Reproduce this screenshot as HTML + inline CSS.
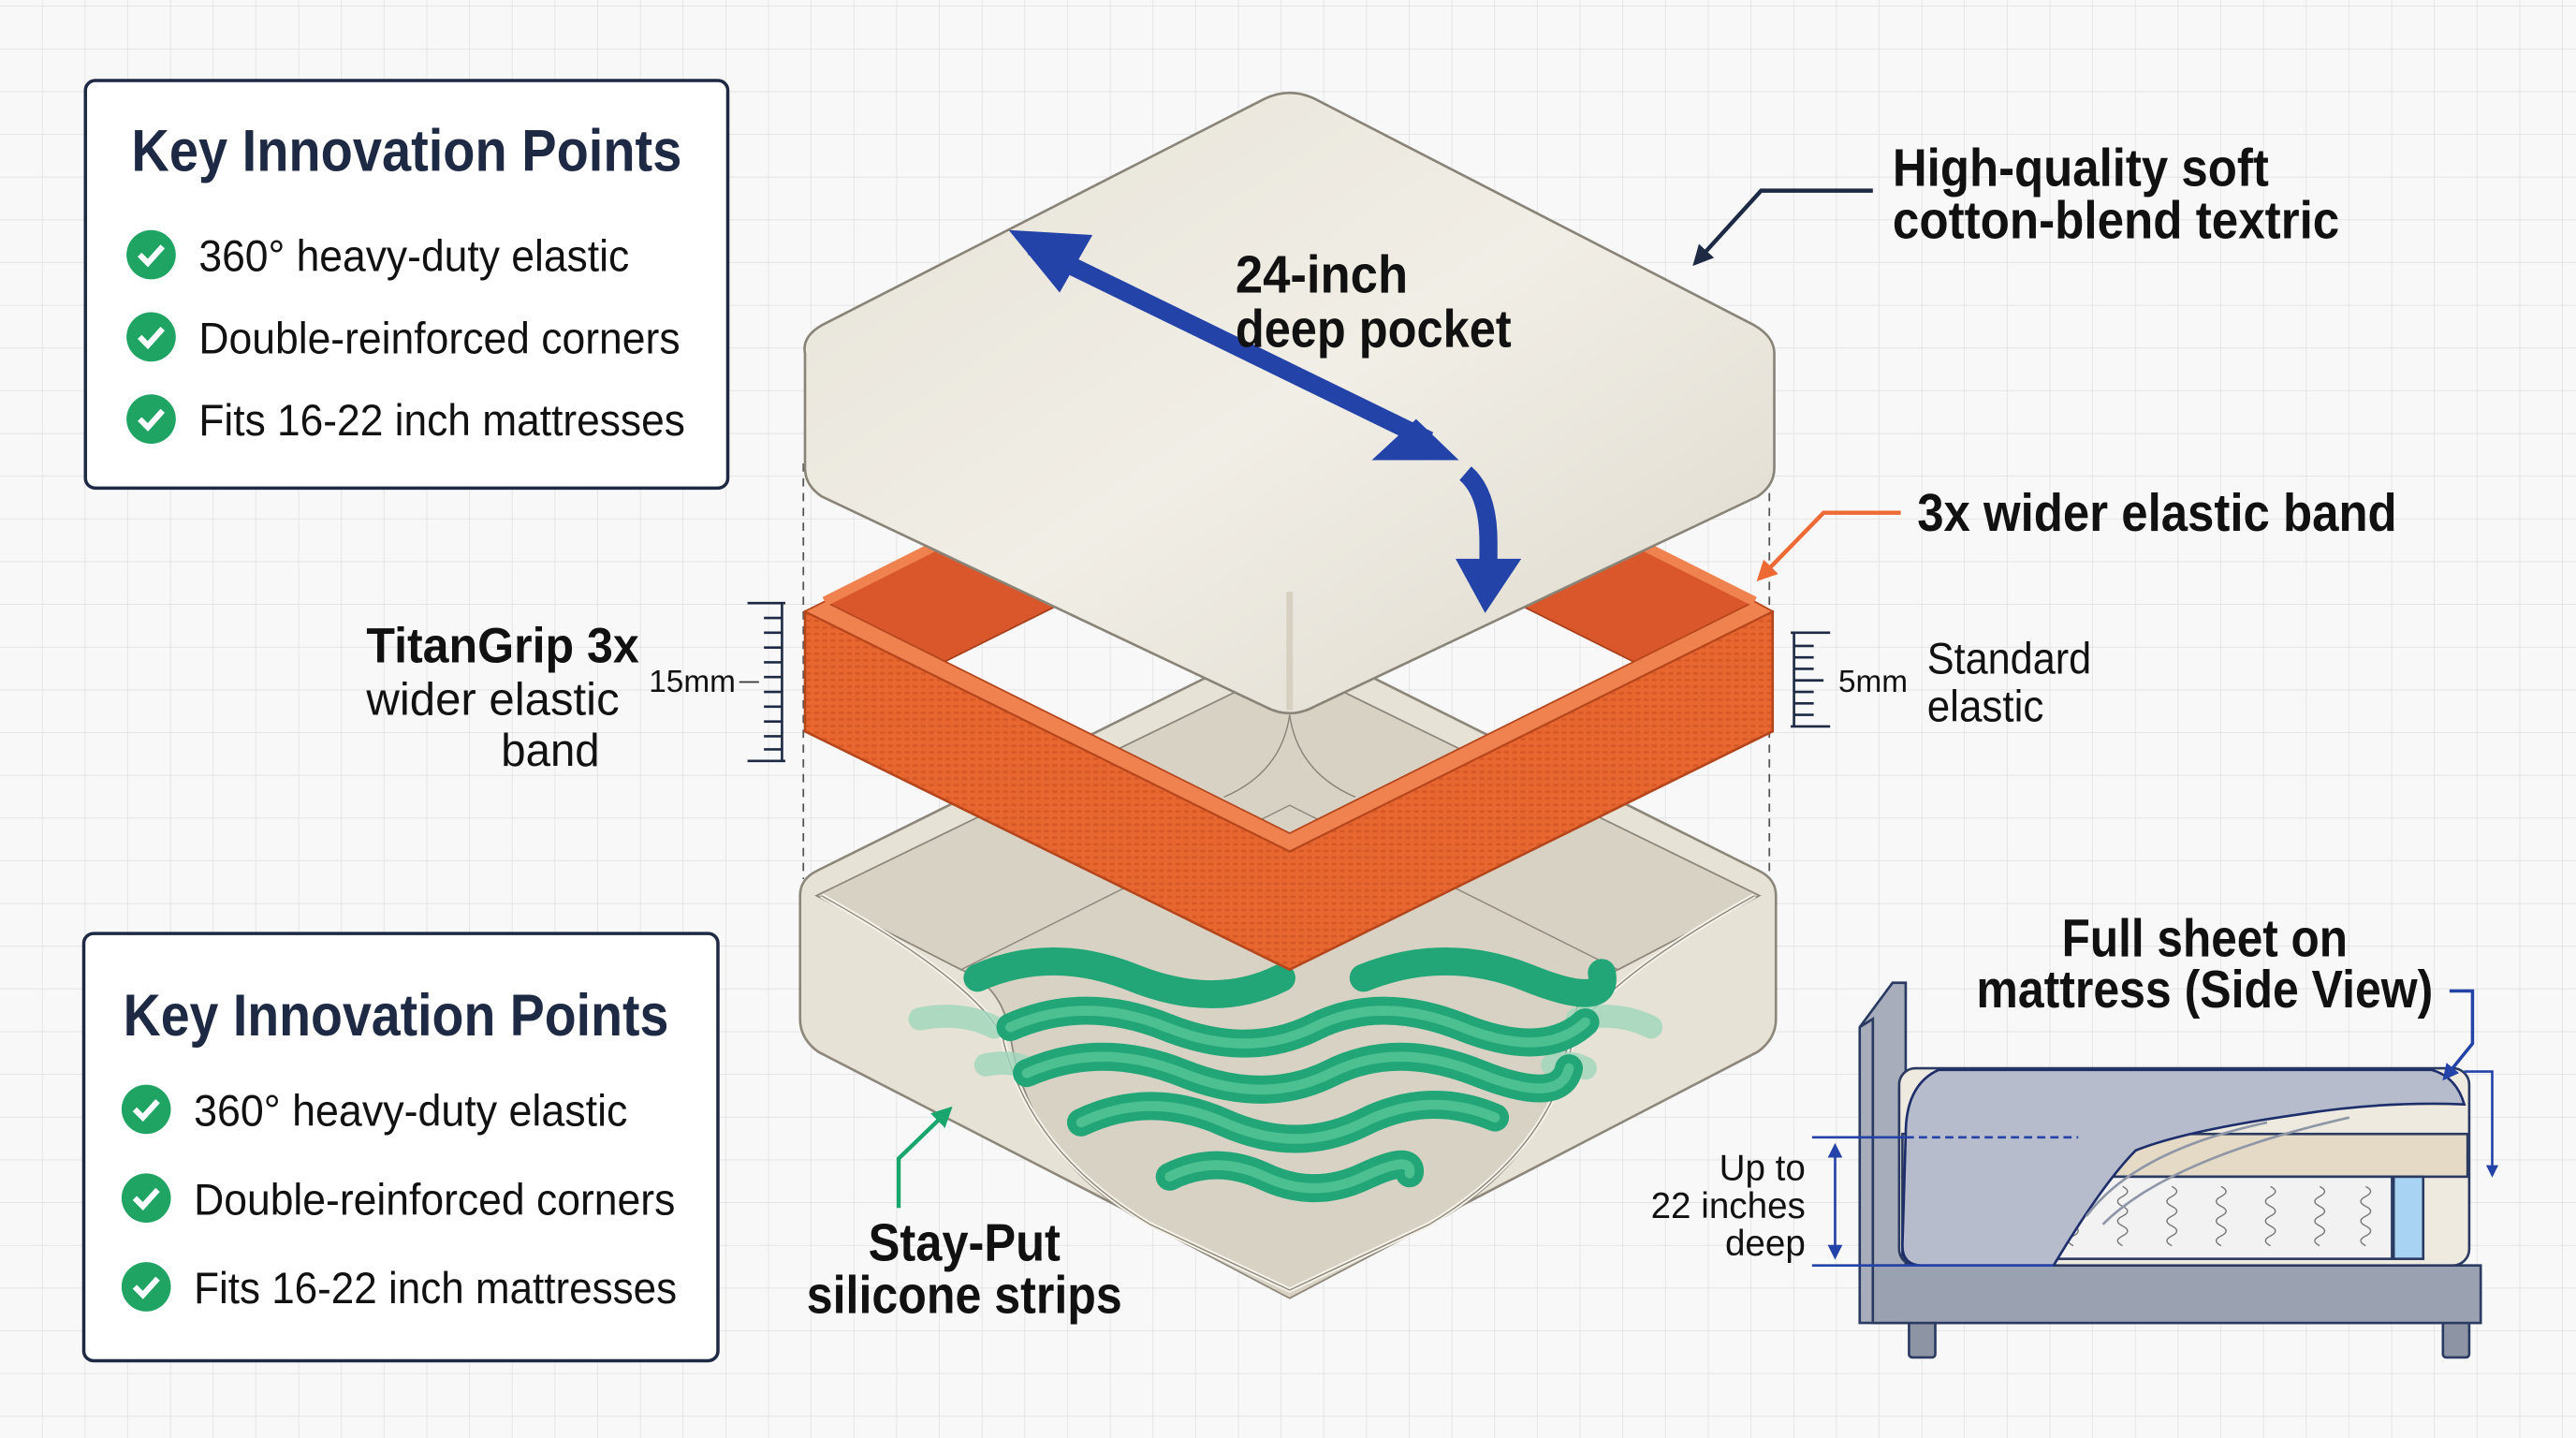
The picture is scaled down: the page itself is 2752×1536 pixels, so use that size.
<!DOCTYPE html>
<html><head><meta charset="utf-8"><style>
html,body{margin:0;padding:0;background:#f7f7f7;}
svg{display:block}
text{font-family:"Liberation Sans Narrow","Liberation Sans",sans-serif;}
</style></head><body>
<svg width="2752" height="1536" viewBox="0 0 1568 875" preserveAspectRatio="none" xmlns="http://www.w3.org/2000/svg">
<defs>
<pattern id="g" width="26" height="26" patternUnits="userSpaceOnUse" x="0" y="4">
<rect width="26" height="26" fill="#f8f8f8"/>
<path d="M26 0V26M0 26H26" stroke="#dedede" stroke-width="0.8" fill="none"/>
</pattern>
<pattern id="knit" width="5" height="4" patternUnits="userSpaceOnUse">
<rect width="5" height="4" fill="#e8662f"/><rect x="0.5" y="1" width="3" height="1.5" fill="#c94e1f" opacity="0.6"/>
</pattern>
<linearGradient id="pt" x1="0" y1="0" x2="1" y2="1"><stop offset="0" stop-color="#e6e2d7"/><stop offset="0.5" stop-color="#f1eee6"/><stop offset="1" stop-color="#ddd8cc"/></linearGradient>
<marker id="an" viewBox="0 0 10 10" refX="8" refY="5" markerWidth="5" markerHeight="5" orient="auto"><path d="M0 0L10 5L0 10Z" fill="#1e2a44"/></marker>
<marker id="ao" viewBox="0 0 10 10" refX="8" refY="5" markerWidth="5" markerHeight="5" orient="auto"><path d="M0 0L10 5L0 10Z" fill="#ee6a34"/></marker>
<marker id="ag" viewBox="0 0 10 10" refX="8" refY="5" markerWidth="5" markerHeight="5" orient="auto"><path d="M0 0L10 5L0 10Z" fill="#18a56e"/></marker>
<marker id="ab" viewBox="0 0 10 10" refX="8" refY="5" markerWidth="5" markerHeight="5" orient="auto"><path d="M0 0L10 5L0 10Z" fill="#2443a8"/></marker>
<marker id="abs" viewBox="0 0 10 10" refX="5" refY="5" markerWidth="6" markerHeight="6" orient="auto-start-reverse"><path d="M0 0L10 5L0 10Z" fill="#2443a8"/></marker>
</defs>
<rect width="1568" height="875" fill="url(#g)"/>

<g stroke="#555" stroke-width="1" stroke-dasharray="5 4">
<line x1="489" y1="282" x2="489" y2="535"/><line x1="1077" y1="282" x2="1077" y2="535"/>
<line x1="785" y1="430" x2="785" y2="785"/>
</g>

<path d="M487 545 Q487 535 497 530 L775 392 Q785 388 795 392 L1071 530 Q1081 535 1081 545 L1081 620 Q1081 632 1070 640 L800 780 Q785 788 770 780 L498 640 Q487 632 487 620 Z" fill="#e7e2d6" stroke="#8d877b" stroke-width="1.5"/>
<path d="M497 545 L785 405 L1071 545 L985 590 Q960 600 955 630 Q945 700 880 740 L785 790 L690 740 Q625 700 615 630 Q610 600 585 590 Z" fill="#d8d2c4" stroke="#8d877b" stroke-width="1"/>
<path d="M585 590 L785 490 L985 590" fill="none" stroke="#8d877b" stroke-width="0.8"/>
<path d="M500 545 Q590 595 610 630 Q625 700 700 745 L785 785 L870 745 Q945 700 958 630 Q978 595 1068 545" fill="none" stroke="#f5f2ea" stroke-width="3"/>
<path d="M500 545 Q590 595 610 630 Q625 700 700 745 L785 785 L870 745 Q945 700 958 630 Q978 595 1068 545" fill="none" stroke="#8d877b" stroke-width="0.8"/>

<g fill="none" stroke-linecap="round">
<g stroke="#9fd8bd" stroke-width="14" opacity="0.8">
<path d="M560 620 Q585 615 605 625"/><path d="M600 648 Q615 645 625 650"/>
<path d="M960 620 Q985 615 1005 625"/><path d="M945 648 Q955 645 965 650"/>
</g>
<g stroke="#23a677" stroke-width="17">
<path d="M595 595 Q640 575 690 595 T780 595"/><path d="M830 595 Q880 575 930 595 T975 592"/>
<path d="M615 625 Q660 605 710 625 T800 625 T890 625 T965 622"/>
<path d="M625 653 Q670 633 720 653 T810 653 T900 653 T955 650"/>
<path d="M658 683 Q700 663 745 683 T830 683 T910 680"/>
<path d="M712 716 Q740 702 770 716 T830 716 T858 714"/>
</g>
<g stroke="#5fcb9e" stroke-width="6" opacity="0.7">
<path d="M615 625 Q660 605 710 625 T800 625 T890 625 T965 622"/>
<path d="M625 653 Q670 633 720 653 T810 653 T900 653 T955 650"/>
<path d="M658 683 Q700 663 745 683 T830 683 T910 680"/>
<path d="M712 716 Q740 702 770 716 T830 716 T858 714"/>
</g>
</g>

<path d="M490 372 L785 225 L1079 372 L1079 445 L785 298 L490 445 Z" fill="#d9572a" stroke="#a8401a" stroke-width="1"/>
<path d="M490 372 L490 445 L785 590 L1079 445 L1079 372 L785 518 Z" fill="url(#knit)" stroke="#b5461c" stroke-width="1.5" stroke-linejoin="round"/>
<path d="M490 372 L785 518 L1079 372 L1068 366 L785 507 L502 366 Z" fill="#f08250" stroke="#b5461c" stroke-width="1"/>
<path d="M502 366 L785 224 L1068 366" fill="none" stroke="#f08250" stroke-width="6"/>

<path d="M490 215 Q488 205 500 198 L770 60 Q785 53 800 60 L1068 198 Q1080 205 1080 215 L1080 285 Q1080 295 1070 302 L800 430 Q785 438 770 430 L500 302 Q490 295 490 285 Z" fill="url(#pt)" stroke="#8a8478" stroke-width="1.5"/>
<path d="M785 360 L785 432" stroke="#d6d0c3" stroke-width="4"/>
<path d="M785 435 Q780 470 745 485 M785 435 Q790 470 825 485" fill="none" stroke="#8a8478" stroke-width="0.8"/>

<path d="M628 150 L870 268" stroke="#2443a8" stroke-width="11"/>
<path d="M614 140 L665 143 L645 178 Z" fill="#2443a8"/>
<path d="M888 280 L835 280 L862 255 Z" fill="#2443a8"/>
<path d="M892 288 Q906 300 906 330 L906 345" fill="none" stroke="#2443a8" stroke-width="11"/>
<path d="M886 340 L926 340 L904 373 Z" fill="#2443a8"/>
<text x="752" y="178" font-size="32" font-weight="bold" fill="#111" textLength="105" lengthAdjust="spacingAndGlyphs">24-inch</text>
<text x="752" y="211" font-size="32" font-weight="bold" fill="#111" textLength="168" lengthAdjust="spacingAndGlyphs">deep pocket</text>

<polyline points="1140,116 1072,116 1032,160" fill="none" stroke="#1e2a44" stroke-width="2.5" marker-end="url(#an)"/>
<text x="1152" y="113" font-size="32" font-weight="bold" fill="#111" textLength="229" lengthAdjust="spacingAndGlyphs">High-quality soft</text>
<text x="1152" y="145" font-size="32" font-weight="bold" fill="#111" textLength="272" lengthAdjust="spacingAndGlyphs">cotton-blend textric</text>

<polyline points="1157,312 1110,312 1071,352" fill="none" stroke="#ee6a34" stroke-width="2.5" marker-end="url(#ao)"/>
<text x="1167" y="323" font-size="32" font-weight="bold" fill="#111" textLength="292" lengthAdjust="spacingAndGlyphs">3x wider elastic band</text>

<text x="389" y="403" font-size="30" font-weight="bold" fill="#111" text-anchor="end" textLength="166" lengthAdjust="spacingAndGlyphs">TitanGrip 3x</text>
<text x="377" y="435" font-size="28" fill="#111" text-anchor="end" textLength="154" lengthAdjust="spacingAndGlyphs">wider elastic</text>
<text x="365" y="466" font-size="28" fill="#111" text-anchor="end" textLength="60" lengthAdjust="spacingAndGlyphs">band</text>
<g stroke="#1e2a44" stroke-width="1.5">
<line x1="476" y1="367" x2="476" y2="463"/><line x1="455" y1="367" x2="478" y2="367"/><line x1="455" y1="463" x2="478" y2="463"/>
<path d="M465 376H476M465 385H476M465 394H476M465 403H476M465 412H476M465 421H476M465 430H476M465 439H476M465 448H476M465 456H476"/>
</g>
<text x="395" y="421" font-size="19" fill="#111">15mm</text>
<line x1="450" y1="415" x2="462" y2="415" stroke="#333"/>
<g stroke="#1e2a44" stroke-width="1.5">
<line x1="1092" y1="385" x2="1092" y2="442"/><line x1="1090" y1="385" x2="1114" y2="385"/><line x1="1090" y1="442" x2="1114" y2="442"/>
<path d="M1092 393H1104M1092 400H1104M1092 407H1104M1092 414H1110M1092 421H1104M1092 428H1104M1092 435H1104"/>
</g>
<text x="1119" y="421" font-size="19" fill="#111">5mm</text>
<text x="1173" y="410" font-size="27" fill="#111" textLength="100" lengthAdjust="spacingAndGlyphs">Standard</text>
<text x="1173" y="439" font-size="27" fill="#111" textLength="71" lengthAdjust="spacingAndGlyphs">elastic</text>

<polyline points="547,735 547,705 578,675" fill="none" stroke="#18a56e" stroke-width="2.5" marker-end="url(#ag)"/>
<text x="587" y="767" font-size="32" font-weight="bold" fill="#111" text-anchor="middle" textLength="117" lengthAdjust="spacingAndGlyphs">Stay-Put</text>
<text x="587" y="799" font-size="32" font-weight="bold" fill="#111" text-anchor="middle" textLength="192" lengthAdjust="spacingAndGlyphs">silicone strips</text>

<g font-size="27" fill="#111">
<rect x="52" y="49" width="391" height="248" rx="6" fill="#fff" stroke="#1e2a44" stroke-width="2"/>
<text x="80" y="104" font-size="36" font-weight="bold" fill="#1e2a44" textLength="335" lengthAdjust="spacingAndGlyphs">Key Innovation Points</text>
<rect x="51" y="568" width="386" height="260" rx="6" fill="#fff" stroke="#1e2a44" stroke-width="2"/>
<text x="75" y="630" font-size="36" font-weight="bold" fill="#1e2a44" textLength="332" lengthAdjust="spacingAndGlyphs">Key Innovation Points</text>
</g>
<g>
<g transform="translate(92,155)"><circle r="15" fill="#1fa463"/><path d="M-7 0L-2 5L7 -5" fill="none" stroke="#fff" stroke-width="3.5"/></g>
<g transform="translate(92,205)"><circle r="15" fill="#1fa463"/><path d="M-7 0L-2 5L7 -5" fill="none" stroke="#fff" stroke-width="3.5"/></g>
<g transform="translate(92,255)"><circle r="15" fill="#1fa463"/><path d="M-7 0L-2 5L7 -5" fill="none" stroke="#fff" stroke-width="3.5"/></g>
<g transform="translate(89,675)"><circle r="15" fill="#1fa463"/><path d="M-7 0L-2 5L7 -5" fill="none" stroke="#fff" stroke-width="3.5"/></g>
<g transform="translate(89,729)"><circle r="15" fill="#1fa463"/><path d="M-7 0L-2 5L7 -5" fill="none" stroke="#fff" stroke-width="3.5"/></g>
<g transform="translate(89,783)"><circle r="15" fill="#1fa463"/><path d="M-7 0L-2 5L7 -5" fill="none" stroke="#fff" stroke-width="3.5"/></g>
</g>
<g font-size="27" fill="#111">
<text x="121" y="165" textLength="262" lengthAdjust="spacingAndGlyphs">360° heavy-duty elastic</text>
<text x="121" y="215" textLength="293" lengthAdjust="spacingAndGlyphs">Double-reinforced corners</text>
<text x="121" y="265" textLength="296" lengthAdjust="spacingAndGlyphs">Fits 16-22 inch mattresses</text>
<text x="118" y="685" textLength="264" lengthAdjust="spacingAndGlyphs">360° heavy-duty elastic</text>
<text x="118" y="739" textLength="293" lengthAdjust="spacingAndGlyphs">Double-reinforced corners</text>
<text x="118" y="793" textLength="294" lengthAdjust="spacingAndGlyphs">Fits 16-22 inch mattresses</text>
</g>

<text x="1342" y="582" font-size="32" font-weight="bold" fill="#111" text-anchor="middle" textLength="174" lengthAdjust="spacingAndGlyphs">Full sheet on</text>
<text x="1342" y="613" font-size="32" font-weight="bold" fill="#111" text-anchor="middle" textLength="278" lengthAdjust="spacingAndGlyphs">mattress (Side View)</text>
<g stroke="#2a3a60" stroke-width="1.5">
<rect x="1162" y="800" width="16" height="26" rx="2" fill="#8d94a3"/>
<rect x="1487" y="800" width="16" height="26" rx="2" fill="#8d94a3"/>
<path d="M1132 625 L1152 598 L1160 598 L1160 805 L1132 805 Z" fill="#a7adba"/>
<path d="M1132 625 L1140 620 L1140 805" fill="none"/>
<rect x="1140" y="770" width="370" height="35" fill="#9aa1b0"/>
<rect x="1156" y="650" width="347" height="120" rx="10" fill="#eeeae0"/>
<rect x="1158" y="690" width="344" height="26" fill="#e4dac6"/>
<rect x="1158" y="716" width="298" height="50" fill="#f2f2f2"/>
<rect x="1457" y="716" width="18" height="50" fill="#a9d3f2"/>
</g>
<g fill="none" stroke="#777" stroke-width="0.8">
<path d="M1262 722q6 3 0 6q-6 3 0 6q6 3 0 6q-6 3 0 6q6 3 0 6q-6 3 0 6"/>
<path d="M1292 722q6 3 0 6q-6 3 0 6q6 3 0 6q-6 3 0 6q6 3 0 6q-6 3 0 6"/>
<path d="M1322 722q6 3 0 6q-6 3 0 6q6 3 0 6q-6 3 0 6q6 3 0 6q-6 3 0 6"/>
<path d="M1352 722q6 3 0 6q-6 3 0 6q6 3 0 6q-6 3 0 6q6 3 0 6q-6 3 0 6"/>
<path d="M1382 722q6 3 0 6q-6 3 0 6q6 3 0 6q-6 3 0 6q6 3 0 6q-6 3 0 6"/>
<path d="M1412 722q6 3 0 6q-6 3 0 6q6 3 0 6q-6 3 0 6q6 3 0 6q-6 3 0 6"/>
<path d="M1440 722q6 3 0 6q-6 3 0 6q6 3 0 6q-6 3 0 6q6 3 0 6q-6 3 0 6"/>
</g>
<path d="M1160 690 Q1160 660 1180 651 L1480 651 Q1495 655 1500 672 Q1450 670 1400 678 Q1330 688 1300 700 Q1280 720 1250 770 L1170 770 Q1158 770 1158 758 Z" fill="#b6bccb" stroke="#1e2e6a" stroke-width="1.5"/>
<path d="M1270 740 Q1300 700 1380 683 M1280 745 Q1320 705 1430 680" fill="none" stroke="#8f96a6" stroke-width="1.5"/>
<line x1="1160" y1="692" x2="1265" y2="692" stroke="#2443a8" stroke-width="1.5" stroke-dasharray="5 3"/>
<line x1="1103" y1="692" x2="1160" y2="692" stroke="#2443a8" stroke-width="1.5"/>
<line x1="1103" y1="770" x2="1250" y2="770" stroke="#2443a8" stroke-width="1.5"/>
<line x1="1117" y1="700" x2="1117" y2="762" stroke="#2443a8" stroke-width="1.5" marker-start="url(#abs)" marker-end="url(#abs)"/>
<g font-size="22" fill="#111" text-anchor="end">
<text x="1099" y="718">Up to</text><text x="1099" y="741">22 inches</text><text x="1099" y="764">deep</text>
</g>
<polyline points="1491,603 1505,603 1505,635 1488,656" fill="none" stroke="#2443a8" stroke-width="2" marker-end="url(#ab)"/>
<polyline points="1500,652 1517,652 1517,715" fill="none" stroke="#2443a8" stroke-width="1.5" marker-end="url(#ab)"/>
</svg>
</body></html>
